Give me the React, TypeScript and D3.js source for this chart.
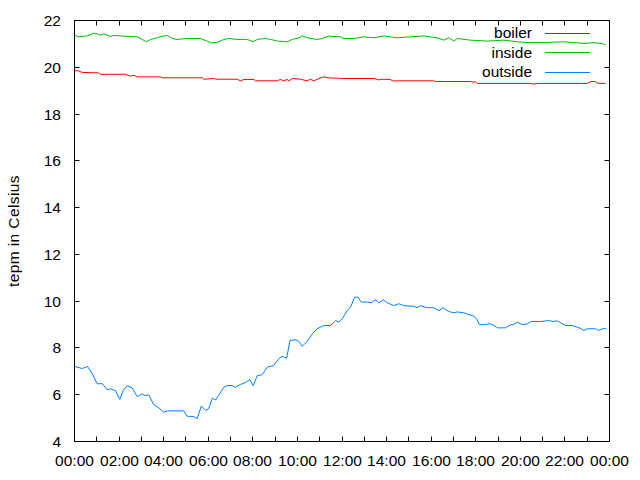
import React, { useEffect, useRef } from "react";
import * as d3 from "d3";

// minutes after midnight + reading (deg C)
const boilerMin = [0, 10, 21, 65, 70, 137, 149, 160, 169, 231, 236, 344, 348, 375, 380, 438, 447, 456, 483, 487, 546, 554, 563, 572, 577, 586, 608, 626, 635, 644, 658, 671, 684, 725, 806, 819, 828, 851, 855, 967, 972, 1066, 1075, 1079, 1084, 1227, 1236, 1245, 1380, 1389, 1402, 1407, 1429];
const boilerTemp = [19.85, 19.85, 19.78, 19.76, 19.7, 19.7, 19.62, 19.66, 19.59, 19.59, 19.55, 19.55, 19.49, 19.52, 19.49, 19.49, 19.42, 19.48, 19.48, 19.42, 19.42, 19.48, 19.42, 19.48, 19.42, 19.52, 19.49, 19.42, 19.49, 19.42, 19.52, 19.59, 19.55, 19.52, 19.52, 19.46, 19.49, 19.48, 19.42, 19.42, 19.39, 19.39, 19.36, 19.39, 19.31, 19.31, 19.28, 19.31, 19.31, 19.39, 19.39, 19.32, 19.31];

const insideMin = [0, 12, 34, 52, 61, 70, 79, 95, 106, 124, 169, 182, 194, 205, 223, 233, 250, 263, 276, 303, 339, 357, 366, 384, 402, 415, 438, 465, 481, 492, 514, 528, 546, 573, 586, 604, 613, 626, 653, 667, 684, 716, 725, 752, 779, 806, 833, 869, 904, 940, 976, 994, 1007, 1021, 1030, 1066, 1111, 1156, 1192, 1218, 1263, 1317, 1371, 1398, 1420, 1429];
const insideTemp = [21.37, 21.3, 21.34, 21.46, 21.43, 21.37, 21.43, 21.32, 21.36, 21.34, 21.3, 21.19, 21.09, 21.19, 21.26, 21.32, 21.36, 21.23, 21.19, 21.23, 21.23, 21.12, 21.05, 21.06, 21.19, 21.23, 21.19, 21.19, 21.09, 21.19, 21.23, 21.19, 21.12, 21.09, 21.19, 21.26, 21.34, 21.26, 21.19, 21.23, 21.33, 21.3, 21.23, 21.23, 21.3, 21.26, 21.34, 21.26, 21.3, 21.34, 21.26, 21.16, 21.26, 21.12, 21.23, 21.16, 21.12, 21.16, 21.09, 21.06, 21.06, 21.09, 21.02, 21.05, 21.02, 20.95];

const outsideMin = [0, 21, 35, 48, 61, 75, 88, 97, 110, 122, 131, 142, 155, 169, 182, 188, 200, 213, 227, 240, 250, 294, 303, 321, 330, 341, 353, 361, 371, 380, 388, 402, 411, 424, 433, 447, 460, 472, 481, 492, 505, 519, 536, 550, 559, 571, 580, 595, 604, 613, 626, 640, 653, 671, 689, 703, 711, 721, 734, 743, 754, 763, 772, 788, 799, 810, 819, 831, 842, 859, 873, 886, 913, 922, 931, 949, 967, 981, 992, 1007, 1021, 1030, 1048, 1061, 1075, 1082, 1090, 1106, 1118, 1129, 1139, 1160, 1174, 1182, 1192, 1205, 1219, 1229, 1254, 1277, 1288, 1299, 1308, 1322, 1340, 1353, 1361, 1371, 1380, 1402, 1411, 1420, 1432];
const outsideTemp = [7.21, 7.12, 7.21, 6.89, 6.47, 6.47, 6.21, 6.25, 6.18, 5.8, 6.18, 6.39, 6.29, 5.92, 6.04, 5.97, 5.99, 5.58, 5.44, 5.25, 5.31, 5.31, 5.08, 5.07, 4.97, 5.51, 5.33, 5.4, 5.85, 5.78, 5.97, 6.32, 6.39, 6.39, 6.32, 6.44, 6.52, 6.65, 6.39, 6.82, 6.85, 7.18, 7.25, 7.54, 7.64, 7.56, 8.32, 8.35, 8.28, 8.07, 8.28, 8.6, 8.82, 8.96, 8.96, 9.17, 9.1, 9.25, 9.6, 9.74, 10.17, 10.17, 9.96, 9.96, 9.93, 10.06, 9.93, 10.06, 9.93, 9.81, 9.89, 9.81, 9.78, 9.72, 9.81, 9.72, 9.72, 9.6, 9.72, 9.56, 9.5, 9.54, 9.5, 9.43, 9.36, 9.25, 9.0, 9.0, 9.04, 8.96, 8.86, 8.86, 8.99, 9.0, 9.1, 9.0, 9.03, 9.13, 9.13, 9.17, 9.13, 9.16, 9.08, 8.96, 8.96, 8.89, 8.84, 8.75, 8.82, 8.82, 8.75, 8.82, 8.82];

const seriesNames = ["boiler", "inside", "outside"];
const seriesColors = ["#ff0000", "#00c000", "#0080ff"];
const yTicks = [4, 6, 8, 10, 12, 14, 16, 18, 20, 22];
const yLabel = "tepm in Celsius";

const day0 = new Date(2000, 0, 1, 0, 0);
const toDate = (m: number) => new Date(day0.getTime() + m * 60000);

const App: React.FC = () => {
  const svgRef: any = useRef();

  useEffect(() => {
    const svg = d3.select(svgRef.current);
    svg.selectAll("*").remove();

    const font = "'Liberation Sans', Arial, sans-serif";
    const left = 74.5;
    const right = 609.5;
    const top = 20.5;
    const bottom = 441.5;

    const x = d3
      .scaleTime()
      .domain([day0, toDate(1440)])
      .range([left, right]);

    const y = d3.scaleLinear().domain([4, 22]).range([bottom, top]);

    const tickLen = 5;

    // y ticks (mirrored on right)
    yTicks.forEach((t) => {
      const yy = Math.round(y(t) - 0.5) + 0.5;
      svg.append("line").attr("x1", left).attr("x2", left + tickLen)
        .attr("y1", yy).attr("y2", yy).attr("stroke", "#000");
      svg.append("line").attr("x1", right).attr("x2", right - tickLen)
        .attr("y1", yy).attr("y2", yy).attr("stroke", "#000");
      svg.append("text")
        .attr("x", 61)
        .attr("y", yy)
        .attr("dy", "0.36em")
        .attr("text-anchor", "end")
        .attr("font-family", font)
        .attr("font-size", "15.5px")
        .attr("fill", "#000")
        .text(t);
    });

    // x ticks every hour, labels every 2 hours
    const hours = d3.timeHour.every(1)!.range(day0, toDate(1441));
    hours.forEach((h) => {
      const xx = Math.round(x(h) - 0.5) + 0.5;
      svg.append("line").attr("x1", xx).attr("x2", xx)
        .attr("y1", bottom).attr("y2", bottom - tickLen).attr("stroke", "#000");
      svg.append("line").attr("x1", xx).attr("x2", xx)
        .attr("y1", top).attr("y2", top + tickLen).attr("stroke", "#000");
      if (h.getHours() % 2 === 0) {
        svg.append("text")
          .attr("x", xx)
          .attr("y", 466)
          .attr("text-anchor", "middle")
          .attr("font-family", font)
          .attr("font-size", "15.5px")
          .attr("fill", "#000")
          .text(d3.timeFormat("%H:%M")(h));
      }
    });

    // border
    svg.append("rect")
      .attr("x", left).attr("y", top)
      .attr("width", right - left).attr("height", bottom - top)
      .attr("fill", "none").attr("stroke", "#000");

    svg.append("text")
      .attr("transform", `translate(19,${(top + bottom) / 2}) rotate(-90)`)
      .attr("text-anchor", "middle")
      .attr("font-family", font)
      .attr("font-size", "15.5px")
      .attr("letter-spacing", "0.4px")
      .attr("fill", "#000")
      .text(yLabel);

    const line = d3
      .line<[number, number]>()
      .x((d) => x(toDate(d[0])))
      .y((d) => y(d[1]));

    const mins = [boilerMin, insideMin, outsideMin];
    const temps = [boilerTemp, insideTemp, outsideTemp];

    mins.forEach((m, i) => {
      const pts = m.map((v, j) => [v, temps[i][j]] as [number, number]);
      svg.append("path")
        .datum(pts)
        .attr("fill", "none")
        .attr("stroke", seriesColors[i])
        .attr("stroke-width", 1)
        .attr("d", line);
    });

    // legend
    seriesNames.forEach((name, i) => {
      const ly = 32.5 + i * 19.5;
      svg.append("text")
        .attr("x", 532)
        .attr("y", ly)
        .attr("dy", "0.36em")
        .attr("text-anchor", "end")
        .attr("font-family", font)
        .attr("font-size", "15.5px")
        .attr("fill", "#000")
        .text(name);
      svg.append("line")
        .attr("x1", 545).attr("x2", 590)
        .attr("y1", Math.round(ly) + 0.5).attr("y2", Math.round(ly) + 0.5)
        .attr("stroke", seriesColors[i]);
    });
  }, []);

  return (
    <svg
      ref={svgRef}
      width={640}
      height={480}
      style={{ position: "absolute", left: 0, top: 0, background: "#fff" }}
    />
  );
};

export default App;
